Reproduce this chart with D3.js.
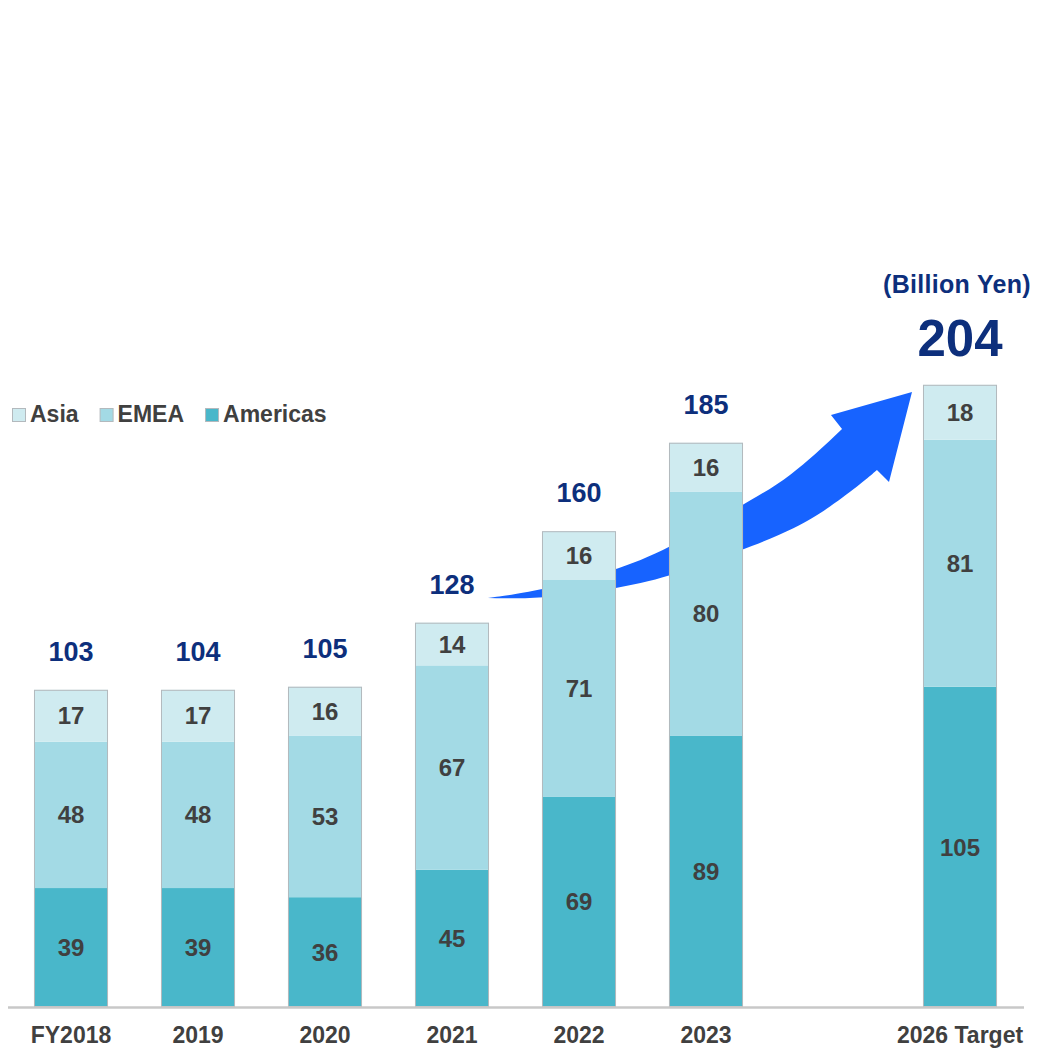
<!DOCTYPE html>
<html>
<head>
<meta charset="utf-8">
<script src="https://cdn.jsdelivr.net/npm/d3@7"></script>
<style>
  body { margin: 0; background: #fff; }
  text { font-family: "Liberation Sans", Arial, sans-serif; font-weight: bold; }
</style>
</head>
<body>
<script>
// values (billion yen)
const categories = ["FY2018", "2019", "2020", "2021", "2022", "2023", "2026 Target"];
const americas = [39, 39, 36, 45, 69, 89, 105];
const emea = [48, 48, 53, 67, 71, 80, 81];
const asia = [17, 17, 16, 14, 16, 16, 18];
const totals = [103, 104, 105, 128, 160, 185, 204];
const seriesNames = ["Americas", "EMEA", "Asia"];
const legendOrder = ["Asia", "EMEA", "Americas"];
const unitLabel = "(Billion Yen)";

// slots on the x axis, one left empty before the target
const slots = ["FY2018", "2019", "2020", "2021", "2022", "2023", "", "2026 Target"];

// growth arrow outline, in [slot index, value] units
const arrowUpper = [[3.283, 134.1], [3.693, 136.4], [4.276, 143.0], [4.693, 149.8], [5.283, 164.6], [5.661, 173.4], [6.071, 189.5]];
const arrowHead = [[5.984, 194.1], [6.622, 201.6], [6.441, 172.1]];
const arrowLower = [[6.346, 176.1], [6.236, 172.1], [5.976, 163.9], [5.717, 157.0], [5.283, 149.8], [4.693, 140.7], [4.276, 137.0], [3.693, 133.8], [3.283, 134.1]];

const width = 1050, height = 1053;
const baseY = 1007;
const colors = {Americas: "#49b7ca", EMEA: "#a3dae5", Asia: "#cfebf0"};

const data = categories.map((c, i) => ({
  cat: c, Americas: americas[i], EMEA: emea[i], Asia: asia[i], total: totals[i]
}));

const svg = d3.select("body").append("svg")
    .attr("width", width)
    .attr("height", height);

const x = d3.scaleBand()
    .domain(slots)
    .range([7.5, 1023.5])
    .paddingInner(0.417)
    .paddingOuter(0.2085);

const y = d3.scaleLinear()
    .domain([0, 210])
    .range([baseY, baseY - 210 * 3.05]);

// slot index -> pixel centre
const xPos = p => x(slots[0]) + x.bandwidth() / 2 + p * x.step();

// arrow (behind the bars)
const line = d3.line().x(d => xPos(d[0])).y(d => y(d[1])).curve(d3.curveBasis);
const upperPath = line(arrowUpper);
const headPath = arrowHead.map(d => `L${xPos(d[0])},${y(d[1])}`).join("");
const lowerPath = line(arrowLower).replace(/^M/, "L");
svg.append("path")
    .attr("d", upperPath + headPath + lowerPath + "Z")
    .attr("fill", "#1763ff");

// stacked bars
const stack = d3.stack().keys(seriesNames)(data);

svg.append("g")
  .selectAll("g")
  .data(stack)
  .join("g")
    .attr("fill", d => colors[d.key])
  .selectAll("rect")
  .data(d => d)
  .join("rect")
    .attr("x", d => x(d.data.cat))
    .attr("y", d => y(d[1]))
    .attr("width", x.bandwidth())
    .attr("height", d => y(d[0]) - y(d[1]));

// outline round each whole bar
svg.append("g")
  .selectAll("rect")
  .data(data)
  .join("rect")
    .attr("x", d => x(d.cat) + 0.5)
    .attr("y", d => y(d.Americas + d.EMEA + d.Asia) + 0.5)
    .attr("width", x.bandwidth() - 1)
    .attr("height", d => y(0) - y(d.Americas + d.EMEA + d.Asia) - 1)
    .attr("fill", "none")
    .attr("stroke", "#b3b9bd")
    .attr("stroke-width", 1);

// segment values
svg.append("g")
  .selectAll("g")
  .data(stack)
  .join("g")
  .selectAll("text")
  .data(d => d)
  .join("text")
    .attr("x", d => x(d.data.cat) + x.bandwidth() / 2)
    .attr("y", d => (y(d[0]) + y(d[1])) / 2)
    .attr("dy", "0.36em")
    .attr("text-anchor", "middle")
    .attr("font-size", 24)
    .attr("fill", "#404040")
    .text(d => d[1] - d[0]);

// totals
svg.append("g")
  .selectAll("text")
  .data(data)
  .join("text")
    .attr("x", d => x(d.cat) + x.bandwidth() / 2)
    .attr("y", d => y(d.Americas + d.EMEA + d.Asia) - 29)
    .attr("text-anchor", "middle")
    .attr("font-size", d => d.cat === "2026 Target" ? 51 : 27)
    .attr("fill", "#0d2f7c")
    .text(d => d.total);

svg.append("text")
    .attr("x", x("2026 Target") + x.bandwidth() / 2 - 3)
    .attr("y", 293)
    .attr("text-anchor", "middle")
    .attr("font-size", 25)
    .attr("letter-spacing", 0.3)
    .attr("fill", "#0d2f7c")
    .text(unitLabel);

// x axis
const xAxis = svg.append("g")
    .attr("transform", `translate(0,${baseY})`)
    .call(d3.axisBottom(x).tickSize(0).tickSizeOuter(0).tickPadding(20));
xAxis.select(".domain").attr("stroke", "#c8c8c8").attr("stroke-width", 2.5);
xAxis.selectAll(".tick text")
    .attr("font-size", 23)
    .attr("font-family", "'Liberation Sans', Arial, sans-serif")
    .attr("font-weight", "bold")
    .attr("fill", "#404040");

// legend
const legend = svg.append("g")
    .attr("transform", "translate(12,422)");
let lx = 0;
legendOrder.forEach(name => {
  legend.append("rect")
      .attr("x", lx + 0.5)
      .attr("y", -13.5)
      .attr("width", 13)
      .attr("height", 13)
      .attr("fill", colors[name])
      .attr("stroke", "#b3b9bd");
  const t = legend.append("text")
      .attr("x", lx + 18)
      .attr("font-size", 23)
      .attr("fill", "#404040")
      .text(name);
  lx += 18 + t.node().getComputedTextLength() + 21;
});
</script>
</body>
</html>
